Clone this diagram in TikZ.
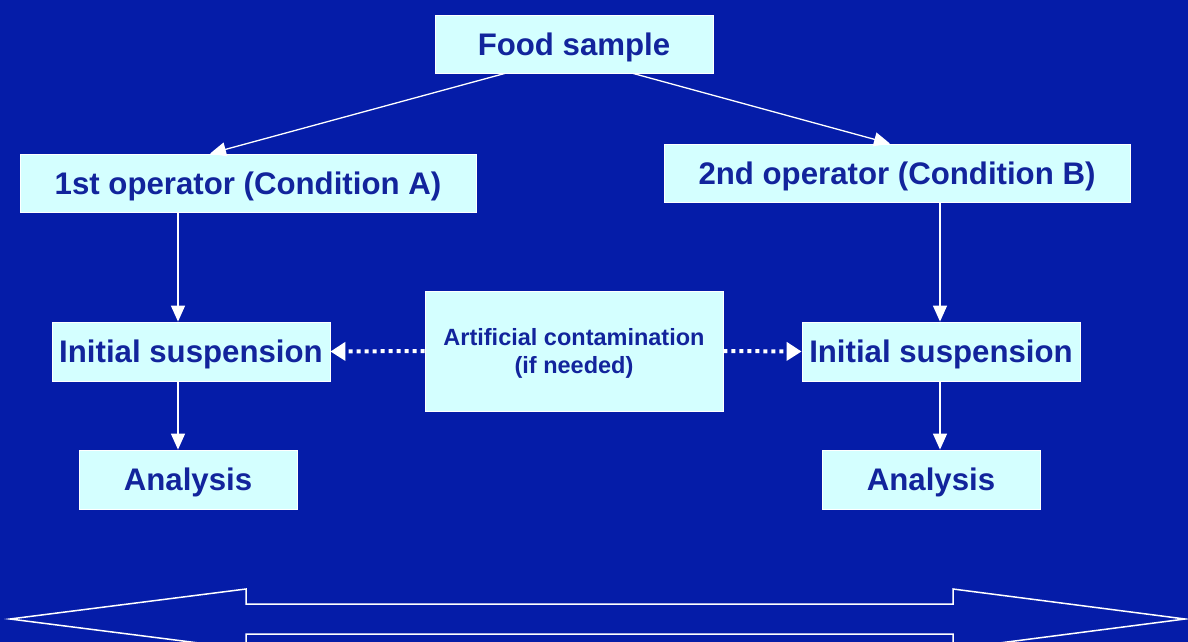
\documentclass[tikz,border=0pt]{standalone}
\usepackage{fontspec}
\setmainfont{Liberation Sans}
\usetikzlibrary{arrows.meta}
\definecolor{bg}{RGB}{5,28,168}
\definecolor{boxfill}{RGB}{212,255,255}
\definecolor{txt}{RGB}{18,36,156}
\tikzset{
  box/.style={draw=white, line width=0.8pt, fill=boxfill, text=txt, inner sep=0pt,
    font=\fontsize{31.2}{34}\selectfont\bfseries, align=center, text depth=0pt},
  smallbox/.style={box, font=\fontsize{23.5}{28}\selectfont\bfseries},
  arr/.style={draw=white, line width=1.3pt, -{Triangle[length=16pt,width=14pt]}},
  dotarr/.style={draw=white, line width=4pt, dash pattern=on 4pt off 4pt, -{Triangle[length=15pt,width=18pt]}},
  bigarrow/.style={draw=white, line width=1.5pt, fill=bg}
}
\begin{document}
\begin{tikzpicture}[x=1pt,y=-1pt]
\fill[bg] (0,0) rectangle (1188,642);
\useasboundingbox (0,0) rectangle (1188,642);

\node[box, minimum width=278pt, minimum height=58pt] (food) at (574,44) {Food sample};
\node[box, minimum width=456pt, minimum height=58pt] (op1) at (248,183) {1st operator (Condition A)};
\node[box, minimum width=466pt, minimum height=58pt] (op2) at (897,173) {2nd operator (Condition B)};
\node[box, minimum width=278pt, minimum height=59pt] (is1) at (191,351.5) {Initial suspension};
\node[smallbox, minimum width=298pt, minimum height=120pt] (art) at (574,351) {Artificial contamination\\(if needed)};
\node[box, minimum width=278pt, minimum height=59pt] (is2) at (941,351.5) {Initial suspension};
\node[box, minimum width=218pt, minimum height=59pt] (an1) at (188,479.5) {Analysis};
\node[box, minimum width=218pt, minimum height=59pt] (an2) at (931,479.5) {Analysis};

\draw[arr] ([xshift=-69pt]food.south) -- ([xshift=-38pt]op1.north);
\draw[arr] ([xshift=59pt]food.south) -- ([xshift=-7pt]op2.north);
\draw[arr] (op1.south -| 178,0) -- (is1.north -| 178,0);
\draw[arr] (is1.south -| 178,0) -- (an1.north -| 178,0);
\draw[arr] (op2.south -| 940,0) -- (is2.north -| 940,0);
\draw[arr] (is2.south -| 940,0) -- (an2.north -| 940,0);
\draw[dotarr] (art.west) -- (is1.east);
\draw[dotarr] (art.east) -- (is2.west);

\draw[bigarrow] (10,619) -- (246,589) -- (246,604) -- (953,604) -- (953,589) -- (1185,619)
  -- (953,649) -- (953,634) -- (246,634) -- (246,649) -- cycle;
\end{tikzpicture}
\end{document}
